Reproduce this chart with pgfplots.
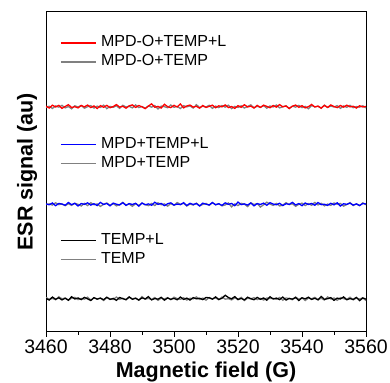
\documentclass[border=0pt]{standalone}
\usepackage{pgfplots}
\pgfplotsset{compat=1.18}
\usepackage{fontspec}
\setmainfont{Liberation Sans}
\definecolor{tracegray}{RGB}{128,128,128}
\pgfplotsset{
  base/.style={
    width=320pt, height=320pt, scale only axis,
    xmin=3460, xmax=3560, ymin=1, ymax=214.33,
    legend style={at={(0.045,#1)}, anchor=north west, draw=none, fill=none,
      inner sep=0pt, outer sep=0pt, row sep=0pt,
      font=\fontsize{16}{19}\selectfont,
      nodes={inner sep=1.5pt, text height=12pt, text depth=4pt},
      /tikz/every odd column/.append style={column sep=3pt}},
    legend cell align=left,
    reverse legend,
    legend image code/.code={\draw[##1, line width=1.1pt] (0pt,0pt) -- (35pt,0pt);},
  },
}
\begin{document}
\begin{tikzpicture}
\path[use as bounding box] (-46pt,-50.3pt) rectangle (344pt,331.7pt);
\begin{axis}[base=0.932,
  axis line style={line width=0.8pt},
  xtick={3460,3480,...,3560}, minor x tick num=1, ytick=\empty,
  xtick align=outside, tick align=outside, xtick pos=bottom,
  major tick length=5pt, minor tick length=3pt,
  every tick/.style={line width=0.8pt, black},
  /pgf/number format/assume math mode=true, /pgf/number format/1000 sep={},
  tick label style={font=\fontsize{19.5}{23}\selectfont},
  xlabel={Magnetic field (G)}, ylabel={ESR signal (au)},
  every axis x label/.style={at={(axis description cs:0.5,-0.143)}, anchor=base,
     font=\fontsize{21.5}{25}\selectfont\bfseries},
  every axis y label/.style={at={(axis description cs:-0.042,0.5)}, rotate=90, anchor=base,
     font=\fontsize{21.5}{25}\selectfont\bfseries},
]
\addplot[tracegray, line width=1.3pt] coordinates {
(3460,150.4)(3461,151.3)(3462,149.8)(3463,151.5)(3464,150.7)(3465,151.9)(3466,150.2)(3467,151.1)(3468,149.6)(3469,151.6)
(3470,150.8)(3471,151.8)(3472,150.0)(3473,151.0)(3474,151.7)(3475,150.1)(3476,151.4)(3477,150.5)(3478,152.0)(3479,149.7)
(3480,151.2)(3481,150.6)(3482,151.6)(3483,149.9)(3484,151.9)(3485,150.8)(3486,151.3)(3487,150.2)(3488,152.2)(3489,150.4)
(3490,151.1)(3491,150.0)(3492,151.5)(3493,150.7)(3494,151.8)(3495,149.5)(3496,151.4)(3497,151.0)(3498,150.3)(3499,152.1)
(3500,150.6)(3501,151.2)(3502,149.8)(3503,151.7)(3504,150.9)(3505,151.5)(3506,150.1)(3507,152.3)(3508,150.5)(3509,151.3)
(3510,150.8)(3511,151.9)(3512,149.9)(3513,151.4)(3514,150.4)(3515,151.8)(3516,150.7)(3517,152.0)(3518,149.7)(3519,151.2)
(3520,150.5)(3521,151.6)(3522,150.1)(3523,151.1)(3524,152.2)(3525,150.3)(3526,151.3)(3527,150.6)(3528,151.7)(3529,150.0)
(3530,151.5)(3531,150.8)(3532,152.1)(3533,150.2)(3534,151.0)(3535,151.6)(3536,149.8)(3537,151.4)(3538,150.7)(3539,151.9)
(3540,150.4)(3541,151.2)(3542,149.6)(3543,151.8)(3544,150.9)(3545,151.3)(3546,150.1)(3547,152.0)(3548,150.5)(3549,151.4)
(3550,150.8)(3551,151.7)(3552,149.9)(3553,151.5)(3554,150.6)(3555,151.9)(3556,150.3)(3557,151.1)(3558,150.7)(3559,151.6)
(3560,150.2)};
\addlegendentry{MPD-O+TEMP}
\addplot[red, line width=1.3pt] coordinates {
(3460,151.4)(3461,150.1)(3462,152.0)(3463,150.8)(3464,151.9)(3465,149.9)(3466,151.2)(3467,152.3)(3468,150.5)(3469,151.0)
(3470,150.2)(3471,151.8)(3472,150.9)(3473,152.1)(3474,150.4)(3475,151.5)(3476,149.8)(3477,151.7)(3478,150.6)(3479,151.9)
(3480,150.3)(3481,151.1)(3482,152.4)(3483,150.7)(3484,151.3)(3485,150.0)(3486,151.6)(3487,152.2)(3488,150.5)(3489,151.8)
(3490,150.9)(3491,149.7)(3492,151.4)(3493,152.9)(3494,150.6)(3495,151.2)(3496,150.1)(3497,152.6)(3498,151.0)(3499,150.4)
(3500,151.9)(3501,150.8)(3502,152.8)(3503,150.2)(3504,151.5)(3505,152.1)(3506,150.7)(3507,151.3)(3508,150.0)(3509,151.8)
(3510,150.5)(3511,151.2)(3512,152.0)(3513,150.3)(3514,151.6)(3515,150.9)(3516,152.2)(3517,150.4)(3518,151.1)(3519,149.9)
(3520,151.7)(3521,150.6)(3522,152.3)(3523,150.8)(3524,151.4)(3525,150.1)(3526,151.9)(3527,150.5)(3528,152.0)(3529,151.2)
(3530,150.3)(3531,151.8)(3532,150.7)(3533,152.4)(3534,150.9)(3535,151.5)(3536,149.8)(3537,151.3)(3538,152.1)(3539,150.6)
(3540,151.7)(3541,150.2)(3542,151.0)(3543,152.5)(3544,150.8)(3545,151.4)(3546,150.0)(3547,151.9)(3548,150.5)(3549,152.2)
(3550,151.1)(3551,150.4)(3552,151.8)(3553,150.7)(3554,152.0)(3555,150.9)(3556,151.3)(3557,150.1)(3558,151.6)(3559,150.8)
(3560,151.2)};
\addlegendentry{MPD-O+TEMP+L}
\end{axis}
\begin{axis}[base=0.616, hide axis, xtick=\empty, ytick=\empty]
\addplot[tracegray, line width=1.3pt] coordinates {
(3460,85.8)(3461,86.2)(3462,85.4)(3463,86.9)(3464,85.7)(3465,86.1)(3466,85.0)(3467,86.3)(3468,85.2)(3469,86.6)
(3470,85.9)(3471,84.8)(3472,86.5)(3473,85.1)(3474,87.0)(3475,85.6)(3476,86.2)(3477,84.5)(3478,86.0)(3479,86.8)
(3480,85.3)(3481,86.4)(3482,84.9)(3483,85.7)(3484,87.2)(3485,85.5)(3486,86.1)(3487,84.6)(3488,86.3)(3489,85.2)
(3490,86.7)(3491,85.8)(3492,85.0)(3493,86.5)(3494,85.1)(3495,86.9)(3496,85.6)(3497,86.2)(3498,84.7)(3499,86.4)
(3500,85.3)(3501,87.1)(3502,85.9)(3503,86.6)(3504,84.8)(3505,86.1)(3506,85.4)(3507,86.7)(3508,85.0)(3509,85.8)
(3510,86.5)(3511,85.2)(3512,87.0)(3513,85.7)(3514,86.3)(3515,84.9)(3516,85.5)(3517,86.8)(3518,84.2)(3519,86.2)
(3520,85.1)(3521,86.6)(3522,86.0)(3523,84.4)(3524,86.9)(3525,85.8)(3526,86.4)(3527,84.1)(3528,85.6)(3529,87.3)
(3530,86.1)(3531,85.2)(3532,86.5)(3533,84.8)(3534,85.4)(3535,87.0)(3536,85.7)(3537,86.3)(3538,84.6)(3539,85.9)
(3540,86.7)(3541,85.1)(3542,86.4)(3543,85.3)(3544,87.2)(3545,85.5)(3546,86.6)(3547,84.9)(3548,86.1)(3549,85.2)
(3550,86.8)(3551,86.0)(3552,86.5)(3553,84.7)(3554,85.8)(3555,87.1)(3556,85.1)(3557,86.2)(3558,85.0)(3559,86.9)
(3560,85.6)};
\addlegendentry{MPD+TEMP}
\addplot[blue, line width=1.3pt] coordinates {
(3460,86.2)(3461,85.6)(3462,86.8)(3463,85.0)(3464,86.5)(3465,86.1)(3466,85.3)(3467,87.1)(3468,85.7)(3469,86.6)
(3470,84.8)(3471,86.4)(3472,85.9)(3473,86.9)(3474,85.4)(3475,86.3)(3476,85.1)(3477,87.2)(3478,85.8)(3479,86.5)
(3480,84.9)(3481,86.7)(3482,86.0)(3483,85.5)(3484,87.0)(3485,85.2)(3486,86.4)(3487,85.8)(3488,86.6)(3489,84.7)
(3490,86.8)(3491,85.6)(3492,86.2)(3493,85.3)(3494,87.3)(3495,85.9)(3496,86.5)(3497,85.0)(3498,86.3)(3499,86.9)
(3500,85.4)(3501,86.1)(3502,85.7)(3503,87.0)(3504,85.1)(3505,86.6)(3506,85.8)(3507,86.4)(3508,84.8)(3509,86.7)
(3510,86.0)(3511,85.5)(3512,87.1)(3513,85.6)(3514,86.3)(3515,85.2)(3516,86.9)(3517,85.9)(3518,86.5)(3519,85.0)
(3520,87.4)(3521,85.7)(3522,86.2)(3523,85.4)(3524,86.8)(3525,84.9)(3526,86.4)(3527,85.8)(3528,86.7)(3529,85.3)
(3530,87.0)(3531,86.1)(3532,85.6)(3533,86.6)(3534,85.1)(3535,86.3)(3536,85.9)(3537,87.2)(3538,85.5)(3539,86.4)
(3540,85.0)(3541,86.8)(3542,85.8)(3543,86.5)(3544,85.3)(3545,87.1)(3546,85.7)(3547,86.0)(3548,85.2)(3549,86.6)
(3550,85.6)(3551,86.9)(3552,84.8)(3553,86.3)(3554,85.9)(3555,86.7)(3556,85.4)(3557,86.2)(3558,85.1)(3559,86.5)
(3560,86.1)};
\addlegendentry{MPD+TEMP+L}
\end{axis}
\begin{axis}[base=0.316, hide axis, xtick=\empty, ytick=\empty]
\addplot[tracegray, line width=1.3pt] coordinates {
(3460,23.8)(3461,22.6)(3462,23.2)(3463,22.3)(3464,24.3)(3465,22.9)(3466,23.5)(3467,22.0)(3468,23.3)(3469,23.9)
(3470,22.4)(3471,23.1)(3472,22.7)(3473,24.0)(3474,22.1)(3475,23.6)(3476,22.8)(3477,23.4)(3478,21.8)(3479,23.7)
(3480,23.0)(3481,22.5)(3482,24.1)(3483,22.6)(3484,23.3)(3485,22.2)(3486,23.9)(3487,22.9)(3488,23.5)(3489,22.0)
(3490,24.4)(3491,22.7)(3492,23.2)(3493,22.4)(3494,23.8)(3495,21.9)(3496,23.4)(3497,22.8)(3498,23.7)(3499,22.3)
(3500,24.0)(3501,23.1)(3502,22.6)(3503,23.6)(3504,22.1)(3505,23.3)(3506,22.9)(3507,24.2)(3508,22.5)(3509,23.4)
(3510,22.0)(3511,23.8)(3512,22.8)(3513,23.5)(3514,22.3)(3515,24.1)(3516,22.7)(3517,23.0)(3518,22.2)(3519,23.6)
(3520,22.6)(3521,23.9)(3522,21.8)(3523,23.3)(3524,22.9)(3525,23.7)(3526,22.4)(3527,23.2)(3528,22.1)(3529,23.5)
(3530,23.1)(3531,23.2)(3532,22.6)(3533,23.8)(3534,22.0)(3535,23.5)(3536,23.1)(3537,22.3)(3538,24.1)(3539,22.7)
(3540,23.6)(3541,21.8)(3542,23.4)(3543,22.9)(3544,23.9)(3545,22.4)(3546,23.3)(3547,22.1)(3548,24.2)(3549,22.8)
(3550,23.5)(3551,21.9)(3552,23.7)(3553,23.0)(3554,22.5)(3555,24.0)(3556,22.2)(3557,23.4)(3558,22.8)(3559,23.6)
(3560,21.7)};
\addlegendentry{TEMP}
\addplot[black, line width=1.3pt] coordinates {
(3460,23.2)(3461,22.1)(3462,24.1)(3463,22.6)(3464,23.6)(3465,22.2)(3466,23.3)(3467,22.0)(3468,24.3)(3469,22.8)
(3470,23.5)(3471,22.4)(3472,23.9)(3473,22.9)(3474,21.8)(3475,23.7)(3476,22.7)(3477,23.4)(3478,22.3)(3479,24.0)
(3480,22.5)(3481,23.2)(3482,21.9)(3483,23.8)(3484,23.0)(3485,22.4)(3486,24.2)(3487,22.6)(3488,23.3)(3489,22.1)
(3490,23.6)(3491,22.8)(3492,24.4)(3493,22.2)(3494,23.1)(3495,22.7)(3496,23.9)(3497,22.0)(3498,23.5)(3499,22.6)
(3500,23.2)(3501,22.3)(3502,24.1)(3503,22.5)(3504,23.4)(3505,22.1)(3506,23.7)(3507,22.9)(3508,23.3)(3509,22.4)
(3510,23.8)(3511,23.6)(3512,22.7)(3513,24.2)(3514,22.5)(3515,23.3)(3516,25.3)(3517,23.8)(3518,22.9)(3519,24.4)
(3520,22.4)(3521,23.2)(3522,22.2)(3523,24.0)(3524,23.0)(3525,22.3)(3526,23.9)(3527,22.6)(3528,23.5)(3529,22.0)
(3530,24.3)(3531,22.8)(3532,23.4)(3533,22.4)(3534,24.1)(3535,22.1)(3536,23.2)(3537,22.7)(3538,23.8)(3539,21.8)
(3540,23.6)(3541,22.9)(3542,24.0)(3543,22.5)(3544,23.3)(3545,22.2)(3546,24.5)(3547,22.6)(3548,23.0)(3549,23.7)
(3550,21.9)(3551,23.4)(3552,22.8)(3553,24.2)(3554,22.3)(3555,23.1)(3556,22.5)(3557,23.9)(3558,21.7)(3559,23.5)
(3560,22.7)};
\addlegendentry{TEMP+L}
\end{axis}
\end{tikzpicture}
\end{document}
